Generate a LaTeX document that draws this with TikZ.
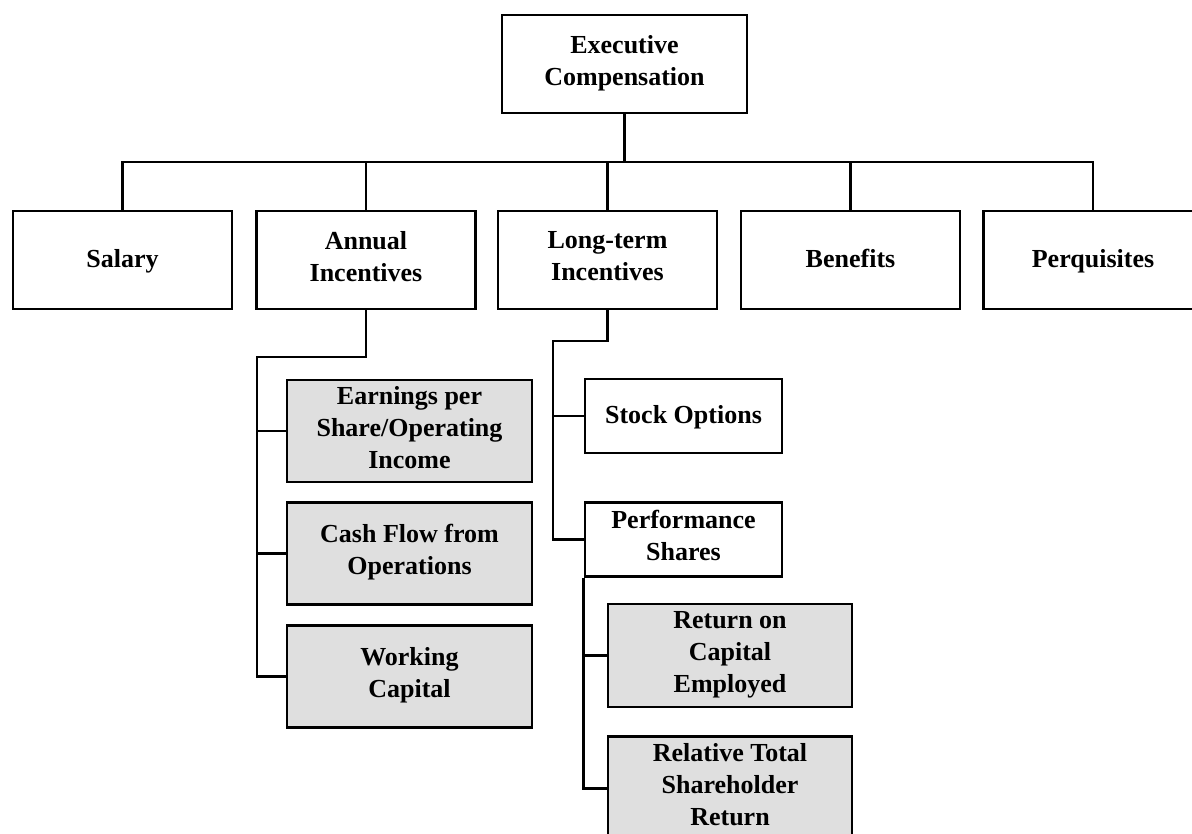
\documentclass[tikz,border=0pt]{standalone}
\usepackage{fontspec}
\setmainfont{Liberation Serif}
\usepackage{tikz}
\usetikzlibrary{positioning}
\usetikzlibrary{calc}
\newcommand{\topstrut}{\rule{0pt}{24pt}}
\newcommand{\botstrut}{\rule[-8pt]{0pt}{8pt}}
\tikzset{main node/.style={draw,line width=2.8pt,align=center,inner sep=0pt,
    font=\bfseries\fontsize{26}{32}\selectfont,
    execute at begin node=\topstrut,execute at end node=\botstrut},
  top node/.style={main node,minimum width=219pt,minimum height=98pt},
  sub node/.style={main node,fill=gray!25,minimum width=245pt,minimum height=102pt},
  lt node/.style={main node,minimum width=197pt,minimum height=74pt},}

\begin{document}
\begin{tikzpicture}[x=1pt,y=-1pt,line width=2.8pt]
    \useasboundingbox (0,0) rectangle (1192,834);
    \node[main node,minimum width=245pt,minimum height=98pt] (exec) at (624.5,64) {Executive\\Compensation};
    \node[top node] (salary) at (122.5,260) {Salary};
    \node[top node] (annual) at (366,260) {Annual\\Incentives};
    \node[top node] (longterm) at (607.5,260) {Long-term\\Incentives};
    \node[top node] (benefits) at (850.5,260) {Benefits};
    \node[top node] (perqs) at (1093,260) {Perquisites};

    % annual incentives measures
    \node[sub node] (eps) at (409.5,431) {Earnings per\\Share/Operating\\Income};
    \node[sub node] (cash) [below = 18pt of eps] {Cash Flow from\\Operations};
    \node[sub node] (wc) [below = 18pt of cash] {Working\\Capital};

    % long-term incentives
    \node[lt node] (stock) at (683.5,416) {Stock Options};
    \node[lt node] (perf) [below = 47pt of stock] {Performance\\Shares};
    \node[sub node,minimum width=244pt,minimum height=103pt] (roce) at (730,655.5) {Return on\\Capital\\Employed};
    \node[sub node,minimum width=244pt,minimum height=103pt] (rtsr) [below = 27pt of roce] {Relative Total\\Shareholder\\Return};

    \coordinate (bus) at (624.5,162);
    \coordinate (ai) at (257,357);
    \coordinate (lt) at (553,341);

    \draw (exec.south) -- (bus);
    \draw (salary.north) |- (bus) -| (perqs.north);
    \draw (annual.north) -- (annual.north |- bus);
    \draw (longterm.north) -- (longterm.north |- bus);
    \draw (benefits.north) -- (benefits.north |- bus);

    \draw (annual.south) |- (ai) |- (wc.west);
    \draw (eps.west) -- (eps.west -| ai);
    \draw (cash.west) -- (cash.west -| ai);

    \draw (longterm.south) |- (lt) |- (perf.west);
    \draw (stock.west) -- (stock.west -| lt);

    \draw (perf.south west) |- (rtsr.west);
    \draw (roce.west) -- (roce.west -| perf.south west);
\end{tikzpicture}
\end{document}
